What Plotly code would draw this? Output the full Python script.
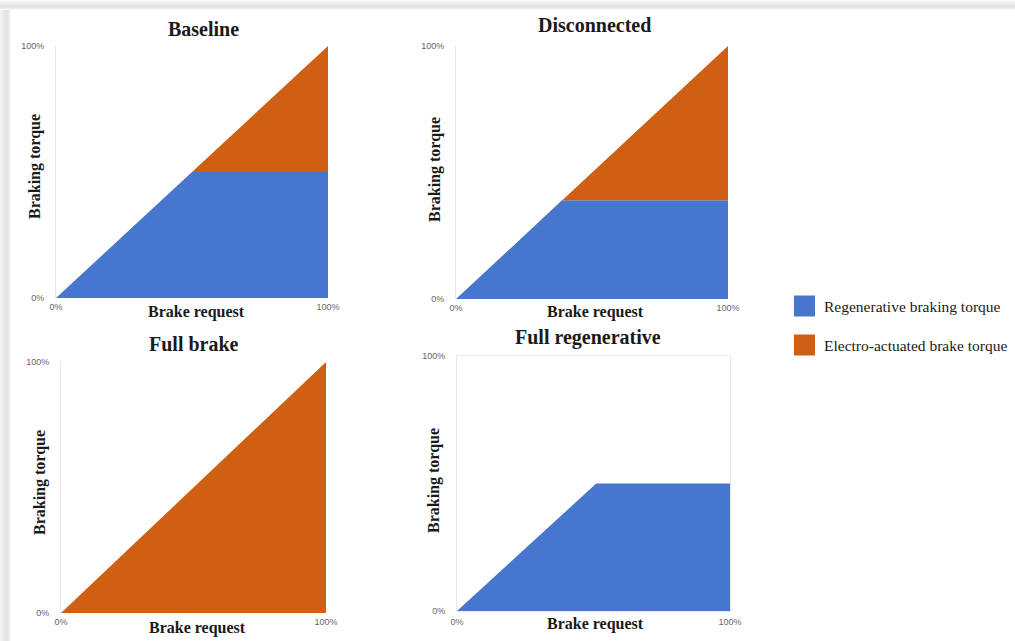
import plotly.graph_objects as go

# ---- data (percent of brake request / braking torque) ----
panels = ["Baseline", "Disconnected", "Full brake", "Full regenerative"]
brake_request = {
    "Baseline": [0, 50, 100],
    "Disconnected": [0, 39, 100],
    "Full brake": [0, 100],
    "Full regenerative": [0, 51, 100],
}
regen_torque = {
    "Baseline": [0, 50, 50],
    "Disconnected": [0, 39, 39],
    "Full brake": None,
    "Full regenerative": [0, 50, 50],
}
total_torque = {
    "Baseline": [0, 50, 100],
    "Disconnected": [0, 39, 100],
    "Full brake": [0, 100],
    "Full regenerative": None,
}
tick_vals = [0, 100]
tick_text = ["0%", "100%"]
legend_names = ["Regenerative braking torque", "Electro-actuated brake torque"]

BLUE = "#4676CE"
ORANGE = "#CF5F12"
W, H = 1015, 641

# pixel boxes of each plot area: (x0, x1, ytop, ybottom)
boxes = {
    "Baseline": (56, 328, 46, 298),
    "Disconnected": (456, 728, 46, 299),
    "Full brake": (61, 326, 362, 613),
    "Full regenerative": (457, 730, 356, 611),
}
title_pos = {
    "Baseline": (203, 29),
    "Disconnected": (594, 25),
    "Full brake": (194, 344),
    "Full regenerative": (588, 337),
}
ytitle_pos = {
    "Baseline": (35, 167),
    "Disconnected": (435, 170),
    "Full brake": (40, 483),
    "Full regenerative": (434, 481),
}
xtitle_pos = {
    "Baseline": (196, 312),
    "Disconnected": (595, 312),
    "Full brake": (197, 628),
    "Full regenerative": (595, 624),
}

def px(x):
    return x / W

def py(y):
    return 1 - y / H

fig = go.Figure()
annotations = []
serif = "Liberation Serif"

for i, name in enumerate(panels):
    k = "" if i == 0 else str(i + 1)
    xa, ya = "x" + k, "y" + k
    x = brake_request[name]
    if regen_torque[name] is not None:
        fig.add_trace(go.Scatter(x=x, y=regen_torque[name], mode="lines", fill="tozeroy",
                                 fillcolor=BLUE, line=dict(width=0, color=BLUE),
                                 xaxis=xa, yaxis=ya, showlegend=False, hoverinfo="skip"))
    if total_torque[name] is not None:
        fig.add_trace(go.Scatter(x=x, y=total_torque[name], mode="lines",
                                 fill="tonexty" if regen_torque[name] is not None else "tozeroy",
                                 fillcolor=ORANGE, line=dict(width=0, color=ORANGE),
                                 xaxis=xa, yaxis=ya, showlegend=False, hoverinfo="skip"))
    x0, x1, yt, yb = boxes[name]
    common = dict(range=[0, 100], tickvals=tick_vals, ticktext=tick_text, showgrid=False,
                  zeroline=False, tickfont=dict(family="Liberation Sans", size=9, color="#666666"),
                  fixedrange=True, automargin=False)
    mirror = name == "Full regenerative"
    fig.update_layout(**{
        "xaxis" + k: dict(domain=[px(x0), px(x1)], anchor=ya, showline=mirror,
                          linecolor="#eeeeee", mirror=mirror, ticks="", ticklabelstandoff=2, **common),
        "yaxis" + k: dict(domain=[py(yb), py(yt)], anchor=xa, showline=True,
                          linecolor="#e6e6e6", mirror=mirror, ticks="", ticklabelstandoff=9, **common),
    })
    tx, ty = title_pos[name]
    annotations.append(dict(text="<b>%s</b>" % name, x=px(tx), y=py(ty), xref="paper", yref="paper",
                            showarrow=False, xanchor="center", yanchor="middle",
                            font=dict(family=serif, size=20, color="#1a1a1a")))
    tx, ty = ytitle_pos[name]
    annotations.append(dict(text="<b>Braking torque</b>", x=px(tx), y=py(ty), xref="paper", yref="paper",
                            showarrow=False, xanchor="center", yanchor="middle", textangle=-90,
                            font=dict(family=serif, size=16, color="#1a1a1a")))
    tx, ty = xtitle_pos[name]
    annotations.append(dict(text="<b>Brake request</b>", x=px(tx), y=py(ty), xref="paper", yref="paper",
                            showarrow=False, xanchor="center", yanchor="middle",
                            font=dict(family=serif, size=16, color="#1a1a1a")))

# grey shadow frame of the original figure (top and left), drawn as graded strips
shapes = []
top_greys = ["#f7f7f7", "#f4f4f4", "#f1f1f1", "#eeeeee", "#eaeaea", "#e6e6e6", "#e3e3e3", "#e6e6e6", "#eeeeee", "#f6f6f6"]
for r, c in enumerate(top_greys):
    shapes.append(dict(type="rect", xref="paper", yref="paper", x0=0, x1=1,
                       y0=py(r + 1), y1=py(r), fillcolor=c, line=dict(width=0), layer="below"))
left_greys = ["#f3f3f3", "#f0f0f0", "#ededed", "#eaeaea", "#e7e7e7", "#e4e4e4", "#e2e2e2", "#e4e4e4", "#e9e9e9", "#f0f0f0", "#f8f8f8"]
for cidx, c in enumerate(left_greys):
    shapes.append(dict(type="rect", xref="paper", yref="paper", x0=px(cidx), x1=px(cidx + 1),
                       y0=0, y1=py(10), fillcolor=c, line=dict(width=0), layer="below"))

# legend (swatches + labels)
for j, (nm, col, yc) in enumerate(zip(legend_names, [BLUE, ORANGE], [306, 345])):
    shapes.append(dict(type="rect", xref="paper", yref="paper", x0=px(794), x1=px(815),
                       y0=py(yc + 10.5), y1=py(yc - 10.5), fillcolor=col, line=dict(width=0)))
    annotations.append(dict(text=nm, x=px(822), y=py(yc), xref="paper", yref="paper",
                            showarrow=False, xanchor="left", yanchor="middle",
                            font=dict(family=serif, size=15.5, color="#1a1a1a")))

fig.update_layout(width=W, height=H, margin=dict(l=0, r=0, t=0, b=0, pad=0),
                  paper_bgcolor="white", plot_bgcolor="white",
                  annotations=annotations, shapes=shapes, showlegend=False)
fig.write_html("out.html", config={"displayModeBar": False},
               post_script="document.body.style.margin='0';document.body.style.overflow='hidden';")
